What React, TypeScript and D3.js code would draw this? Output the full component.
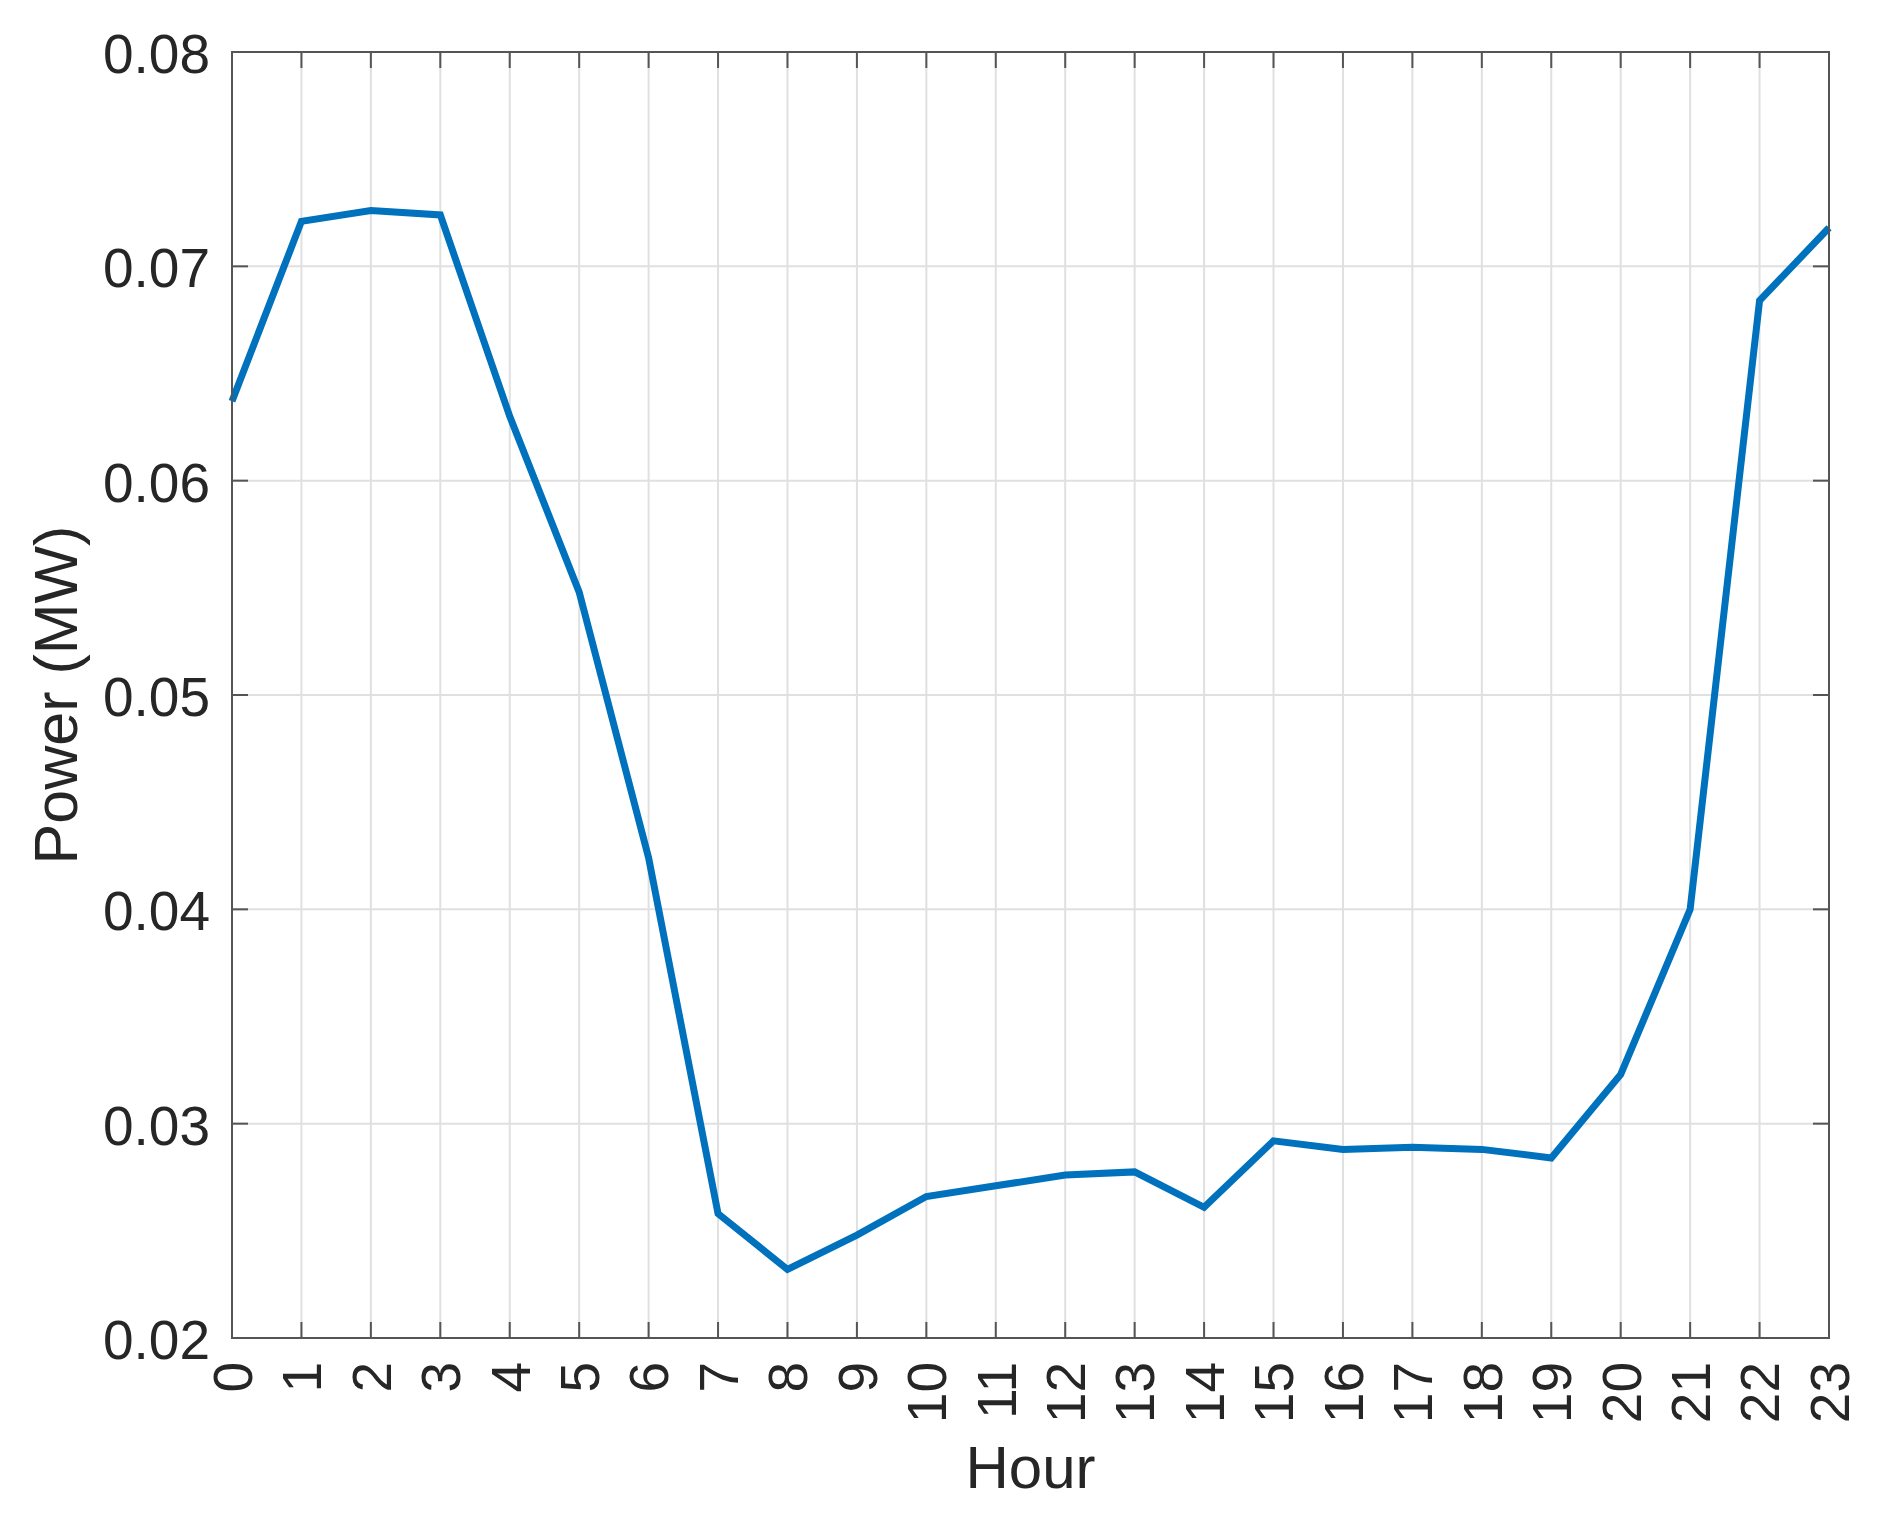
import React from "react";
import * as d3 from "d3";

const hours: number[] = [0, 1, 2, 3, 4, 5, 6, 7, 8, 9, 10, 11, 12, 13, 14, 15, 16, 17, 18, 19, 20, 21, 22, 23];
const power: number[] = [
  0.0637, 0.0721, 0.0726, 0.0724, 0.0630, 0.0548, 0.0424, 0.0258, 0.0232, 0.0248,
  0.0266, 0.0271, 0.0276, 0.02775, 0.0261, 0.0292, 0.0288, 0.0289, 0.0288, 0.0284,
  0.0323, 0.0400, 0.0684, 0.0718,
];
const yTicks: number[] = [0.02, 0.03, 0.04, 0.05, 0.06, 0.07, 0.08];
const xLabel = "Hour";
const yLabel = "Power (MW)";

const W = 1897;
const H = 1529;
const M = { left: 232, right: 1829, top: 52, bottom: 1338 };
const FONT = "'Liberation Sans', Arial, Helvetica, sans-serif";
const TEXT = "#262626";
const AXIS = "#555555";
const GRID = "#e0e0e0";
const TICK = 16;

export default function App() {
  const x = d3.scaleLinear().domain([0, 23]).range([M.left, M.right]);
  const y = d3.scaleLinear().domain([0.02, 0.08]).range([M.bottom, M.top]);
  const line = d3
    .line<number>()
    .x((_, i) => x(hours[i]))
    .y((d) => y(d));
  const fmt = d3.format(".2f");

  return (
    <div style={{ position: "absolute", left: 0, top: 0 }}>
      <svg width={W} height={H} style={{ display: "block", background: "#fff" }}>
        <rect x={0} y={0} width={W} height={H} fill="#fff" />
        {/* grid */}
        {hours.map((h) => (
          <line key={"gx" + h} x1={x(h)} x2={x(h)} y1={M.top} y2={M.bottom} stroke={GRID} strokeWidth={2} />
        ))}
        {yTicks.map((t) => (
          <line key={"gy" + t} x1={M.left} x2={M.right} y1={y(t)} y2={y(t)} stroke={GRID} strokeWidth={2} />
        ))}
        {/* data line */}
        <path d={line(power) || ""} fill="none" stroke="#0072BD" strokeWidth={7} strokeLinejoin="miter" />
        {/* ticks */}
        {hours.map((h) => (
          <g key={"tx" + h}>
            <line x1={x(h)} x2={x(h)} y1={M.bottom} y2={M.bottom - TICK} stroke={AXIS} strokeWidth={2} />
            <line x1={x(h)} x2={x(h)} y1={M.top} y2={M.top + TICK} stroke={AXIS} strokeWidth={2} />
          </g>
        ))}
        {yTicks.map((t) => (
          <g key={"ty" + t}>
            <line x1={M.left} x2={M.left + TICK} y1={y(t)} y2={y(t)} stroke={AXIS} strokeWidth={2} />
            <line x1={M.right} x2={M.right - TICK} y1={y(t)} y2={y(t)} stroke={AXIS} strokeWidth={2} />
          </g>
        ))}
        {/* box */}
        <rect
          x={M.left}
          y={M.top}
          width={M.right - M.left}
          height={M.bottom - M.top}
          fill="none"
          stroke={AXIS}
          strokeWidth={2}
        />
        {/* y tick labels */}
        {yTicks.map((t) => (
          <text
            key={"ly" + t}
            x={M.left - 22}
            y={y(t) + 21}
            textAnchor="end"
            fontFamily={FONT}
            fontSize={55}
            fill={TEXT}
          >
            {fmt(t)}
          </text>
        ))}
        {/* x tick labels */}
        {hours.map((h) => (
          <text
            key={"lx" + h}
            transform={`translate(${x(h)},${M.bottom + 24}) rotate(-90)`}
            textAnchor="end"
            dy="0.36em"
            fontFamily={FONT}
            fontSize={55}
            fill={TEXT}
          >
            {String(h)}
          </text>
        ))}
        {/* axis labels */}
        <text
          x={(M.left + M.right) / 2}
          y={1488}
          textAnchor="middle"
          fontFamily={FONT}
          fontSize={60}
          fill={TEXT}
        >
          {xLabel}
        </text>
        <text
          transform={`translate(77,${(M.top + M.bottom) / 2}) rotate(-90)`}
          textAnchor="middle"
          fontFamily={FONT}
          fontSize={61}
          fill={TEXT}
        >
          {yLabel}
        </text>
      </svg>
    </div>
  );
}
